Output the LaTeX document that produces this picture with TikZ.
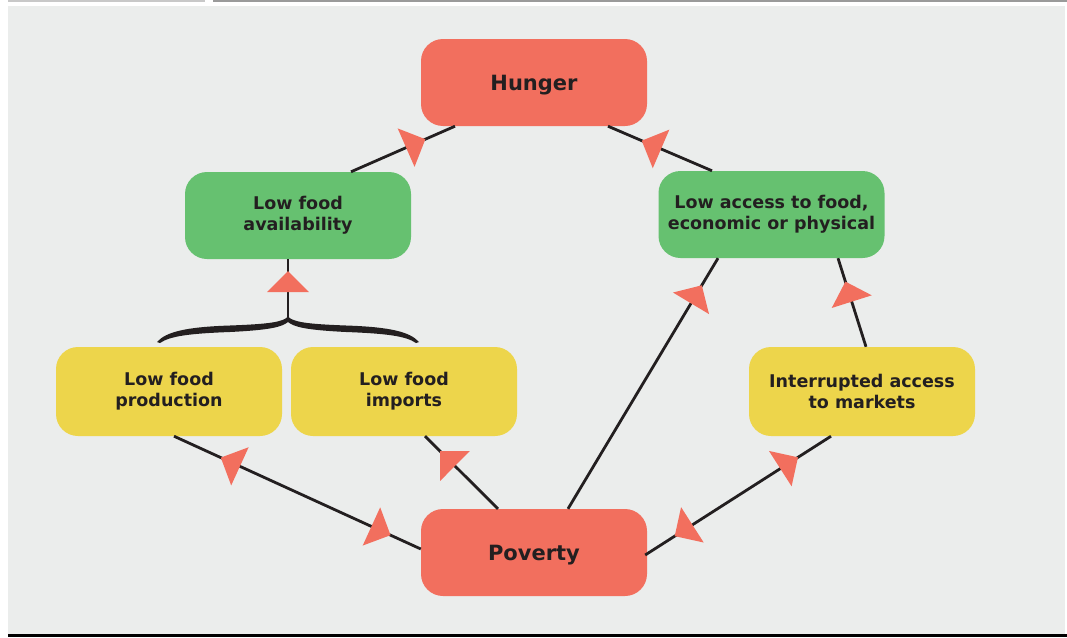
\documentclass[tikz,border=0pt]{standalone}
\usepackage{fontspec}
\setmainfont{DejaVu Sans}
\usetikzlibrary{calc,decorations.markings}
\definecolor{bgc}{HTML}{EBEDEC}
\definecolor{hred}{HTML}{F26F5E}
\definecolor{hgreen}{HTML}{66C170}
\definecolor{hyellow}{HTML}{EDD54B}
\definecolor{ink}{HTML}{231F20}
\definecolor{rulelight}{HTML}{C8C8C8}
\definecolor{ruledark}{HTML}{9A9A9A}
\tikzset{
  box/.style={rounded corners=22pt, minimum width=226pt, minimum height=87pt, inner sep=0pt,
    align=center, text=ink, font=\bfseries\fontsize{17.5}{21}\selectfont},
  bigbox/.style={box, text depth=0pt, font=\bfseries\fontsize{21}{25}\selectfont},
  conn/.style={draw=ink, line width=2.8pt},
  tipat/.style={postaction={decorate,decoration={markings,
      mark=at position #1 with {\fill[hred] (0pt,-21pt) -- (21pt,0pt) -- (0pt,21pt) -- cycle;}}}},
  tipback/.style={postaction={decorate,decoration={markings,
      mark=at position #1 with {\fill[hred] (0pt,-21pt) -- (-21pt,0pt) -- (0pt,21pt) -- cycle;}}}}
}
\begin{document}
\begin{tikzpicture}[x=1pt,y=-1pt]
\useasboundingbox (0,0) rectangle (1067,637);
\fill[rulelight] (8,0) rectangle (205,1.5);
\fill[ruledark] (213,0) rectangle (1067,1.5);
\fill[bgc] (8,6) rectangle (1065,634);
\fill[black] (8,634) rectangle (1067,637);

\node[bigbox, fill=hred] (hunger) at (534,82.5) {Hunger};
\node[box, fill=hgreen] (avail) at (298,215.5) {Low food\\availability};
\node[box, fill=hgreen] (access) at (771.5,214.5) {Low access to food,\\economic or physical};
\node[box, fill=hyellow, minimum height=89pt] (prod) at (169,391.5) {Low food\\production};
\node[box, fill=hyellow, minimum height=89pt] (imp) at (404,391.5) {Low food\\imports};
\node[box, fill=hyellow, minimum height=89pt] (mkt) at (862,391.5) {Interrupted access\\to markets};
\node[bigbox, fill=hred] (pov) at (534,552.5) {Poverty};

\draw[conn, tipat=0.53] ($(avail.north)+(53,0)$) -- ($(hunger.south)+(-79,0)$);
\draw[conn, tipat=0.49] ($(access.north)+(-59.5,0)$) -- ($(hunger.south)+(74,0)$);
\draw[conn, tipat=0.82] ($(pov.north)+(34,0)$) -- ($(access.south)+(-53.5,0)$);
\draw[conn, tipat=0.51] ($(mkt.north)+(4,0)$) -- ($(access.south)+(66.5,0)$);
\draw[conn, tipat=0.727, tipback=0.254] ($(pov.east)+(-2,2.5)$) -- ($(mkt.south)+(-31,0)$);
\draw[conn, tipat=0.733, tipback=0.20] ($(pov.west)+(0,-3.5)$) -- ($(prod.south)+(5,0)$);
\draw[conn, tipat=0.59] ($(pov.north)+(-36,0)$) -- ($(imp.south)+(21,0)$);

% brace
\coordinate (bracetip) at (288,318);
\fill[ink] (157,342) .. controls (166,332) and (185,327) .. (230,325.5)
  .. controls (270,324) and (283,322) .. (288,316.5) -- (288,322)
  .. controls (282,327) and (270,330) .. (230,332)
  .. controls (190,333.5) and (170,336) .. (160,343) -- cycle;
\fill[ink] (419,342) .. controls (410,332) and (391,327) .. (346,325.5)
  .. controls (306,324) and (293,322) .. (288,316.5) -- (288,322)
  .. controls (294,327) and (306,330) .. (346,332)
  .. controls (386,333.5) and (406,336) .. (416,343) -- cycle;
\draw[conn, tipat=0.44] (bracetip) -- (avail.south -| bracetip);
\end{tikzpicture}
\end{document}
